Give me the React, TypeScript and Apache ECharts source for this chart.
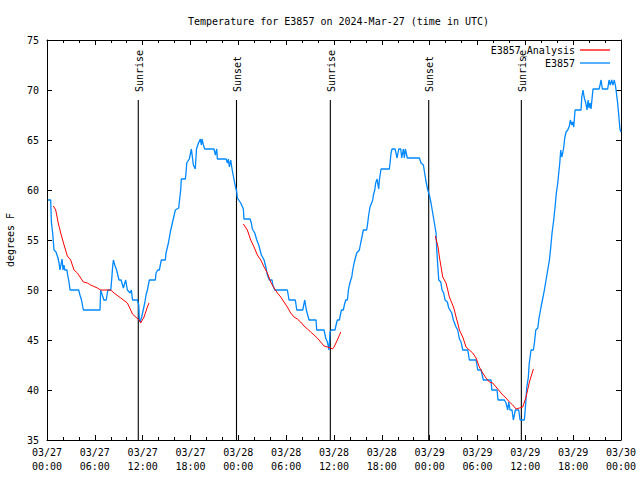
import React, { useEffect, useRef } from "react";
import * as echarts from "echarts";

// hours since 2024-03-27 00:00 UTC
const START_UTC = Date.UTC(2024, 2, 27, 0, 0);

const blueHours = [
  0.10, 0.46, 0.55, 0.71, 0.88, 1.13, 1.38, 1.51, 1.63, 1.89, 2.01, 2.13, 2.23, 2.51, 2.55, 2.76, 2.89, 3.98, 4.13, 4.33,
  4.56, 6.65, 6.73, 7.13, 7.43, 7.63, 8.0, 8.13, 8.23, 8.33, 8.5, 8.73, 9.03, 9.29, 9.58, 9.87, 10.08, 10.43, 10.58, 10.73,
  11.33, 11.51, 11.58, 11.67, 11.88, 12.26, 12.42, 12.59, 12.84, 13.59, 13.68, 13.89, 14.09, 14.34, 14.84, 14.93, 15.23, 15.47, 15.81, 16.1,
  16.52, 16.6, 16.77, 16.85, 17.35, 17.44, 17.53, 17.85, 18.11, 18.36, 18.6, 18.75, 19.0, 19.24, 19.36, 19.45, 19.62, 19.78, 20.95, 21.12,
  21.29, 21.37, 22.46, 22.63, 22.75, 22.88, 23.05, 23.17, 23.3, 23.59, 23.8, 23.88, 24.3, 24.63, 24.71, 25.47, 25.63, 25.76, 26.06, 26.31,
  26.56, 26.72, 26.89, 27.23, 27.48, 27.64, 27.89, 28.23, 28.32, 28.57, 30.15, 30.36, 31.15, 31.33, 32.08, 32.33, 32.53, 32.87, 33.75, 33.83,
  34.75, 34.96, 35.17, 35.38, 35.5, 35.67, 36.13, 36.26, 36.42, 36.67, 36.93, 37.17, 37.3, 37.47, 37.68, 37.81, 37.93, 38.1, 38.23, 38.35,
  38.52, 38.68, 38.85, 39.18, 39.35, 39.48, 39.68, 40.1, 40.23, 40.35, 40.52, 40.86, 40.94, 41.11, 41.23, 41.4, 41.52, 41.61, 41.69, 41.9,
  42.94, 43.03, 43.16, 43.28, 43.66, 43.91, 44.12, 44.37, 44.5, 44.7, 44.83, 44.95, 45.2, 46.71, 46.92, 47.21, 47.51, 47.76, 47.96, 48.17,
  48.38, 48.59, 48.8, 48.89, 49.01, 49.14, 49.39, 49.55, 49.76, 49.93, 50.22, 50.39, 50.55, 50.77, 50.97, 51.31, 51.52, 51.73, 51.94, 52.15,
  52.78, 52.98, 53.82, 54.03, 54.45, 54.73, 55.7, 55.79, 56.45, 56.58, 57.37, 57.58, 57.79, 57.92, 58.08, 58.33, 58.5, 58.75, 59.17, 59.34,
  59.88, 60.05, 60.18, 60.38, 60.47, 60.63, 60.72, 61.01, 61.14, 61.31, 61.56, 61.72, 61.97, 62.22, 62.39, 62.6, 62.81, 63.02, 63.19, 63.35,
  63.56, 63.73, 63.89, 64.07, 64.19, 64.32, 64.44, 64.57, 64.69, 64.82, 64.94, 65.11, 65.32, 65.52, 65.65, 65.82, 65.94, 66.07, 66.24, 66.99,
  67.08, 67.24, 67.37, 67.58, 67.74, 67.87, 67.99, 68.12, 68.24, 68.49, 69.25, 69.37, 69.5, 69.66, 70.33, 70.5, 70.66, 70.83, 70.99, 71.16,
  71.33, 71.58, 71.74, 71.87, 72.0,
];
const blueTemps = [
  59, 59, 56.8, 55.7, 54, 53.8, 53.2, 52.7, 52, 53.1, 52, 52.5, 52, 52, 51.7, 50.8, 50, 50, 49.5, 49,
  48, 48, 50, 49, 49, 50, 50, 51.2, 52.3, 53, 52.5, 52, 51, 51, 50.2, 51, 50, 49.7, 50, 49,
  49, 48.5, 47, 46.8, 47.3, 48.7, 49.5, 50, 51, 51, 51.7, 52, 52, 53, 53, 53.7, 54.7, 55.8, 57, 58,
  58.2, 58.8, 60, 61.1, 61.1, 61.7, 62.7, 63.1, 64.1, 62.5, 62.1, 64.1, 64.7, 65.1, 64.5, 65.1, 64.5, 64.1, 64.1, 63.5,
  64.1, 63.1, 63.1, 62.7, 63.1, 62.3, 63, 62.3, 61.7, 60.5, 59.8, 59.2, 58.7, 58.1, 57.1, 57.1, 56.7, 56.1, 55.7, 55,
  54.5, 54, 53.5, 53, 52.2, 51.5, 51, 51, 50.5, 50, 50, 49, 49, 48, 48, 49, 48, 47, 47, 46,
  46, 45.2, 44.8, 44, 45.8, 46, 46, 46.5, 47, 47, 48, 48, 48.5, 49, 49, 50, 50.5, 51, 51.3, 52,
  52.7, 53.2, 53.7, 54, 54.7, 55.2, 56, 56, 56.7, 57.5, 58.3, 59, 59.5, 60, 60.7, 61.1, 60.5, 60.1, 61, 62.1,
  62.1, 62.7, 63.7, 64.1, 64.1, 63.2, 64.1, 64.1, 63.2, 64.1, 63.2, 64.1, 63.2, 63.2, 62.7, 62.5, 61, 60, 59.5, 58.7,
  57.7, 56.7, 55.7, 54, 52.5, 51, 50.8, 50, 49.7, 49, 48.8, 48.2, 48, 47.7, 47, 46.3, 46, 45.1, 44.8, 44,
  44, 43, 43, 42, 42, 41, 41, 40, 40, 39, 39, 38.7, 38, 38.8, 38, 38, 37, 38, 38, 37,
  37, 38.7, 40.3, 41.3, 42.5, 43.5, 44, 44, 44.7, 46, 46.2, 47.2, 48.3, 49.3, 50, 51, 52, 53, 54.3, 55.7,
  57, 58.3, 59.7, 60.7, 61.7, 62.7, 64, 63.3, 63.7, 64.3, 65.2, 65.8, 66, 66.4, 67, 66.5, 66.8, 66.3, 68, 68,
  69.3, 70, 69.3, 68.7, 68, 69, 68.2, 68.7, 68.1, 70.1, 70.1, 70.5, 71, 70.1, 70.1, 71, 70.5, 71, 70.5, 71,
  70.3, 68.7, 67.3, 66.1, 65.8,
];

// analysis curve: three separate runs
const redHours1 = [0.8, 1.09, 1.22, 1.38, 1.72, 2.14, 2.55, 2.97, 3.39, 3.81, 4.23, 4.56, 5.06, 5.48, 6.32, 6.73, 7.99, 8.41, 9.25, 10.08, 10.5, 10.71, 11.55, 11.75, 12.17, 12.59, 12.8];
const redTemps1 = [58.4, 58, 57.5, 56.8, 55.7, 54.5, 53.4, 53, 52, 51.7, 51.2, 50.8, 50.7, 50.5, 50.2, 50, 50, 49.7, 49.2, 48.7, 48, 47.6, 47, 46.7, 47.3, 48.3, 48.7];
const redHours2 = [24.63, 25.13, 25.55, 25.97, 26.39, 26.81, 27.23, 27.64, 28.06, 28.48, 28.9, 29.32, 29.73, 30.15, 30.57, 30.99, 31.4, 31.82, 32.24, 32.66, 33.08, 33.5, 33.91, 34.33, 34.75, 35.17, 35.59, 35.8, 36.01, 36.42, 36.85];
const redTemps2 = [56.6, 56, 55, 54.3, 53.5, 53, 52.3, 51.7, 50.8, 50.2, 49.7, 49.3, 48.8, 48.3, 47.7, 47.3, 47.1, 46.8, 46.4, 46.1, 45.8, 45.5, 45.2, 44.8, 44.4, 44.3, 44.2, 44.1, 44.3, 45, 45.8];
const redHours3 = [48.71, 49.05, 49.22, 49.43, 49.64, 50.05, 50.27, 50.47, 50.89, 51.1, 51.31, 51.52, 51.73, 52.15, 52.56, 52.98, 53.4, 53.82, 54.23, 54.65, 55.07, 55.49, 55.91, 56.33, 56.75, 57.17, 57.58, 58.0, 58.42, 58.84, 59.26, 59.68, 60.09, 60.51, 61.01];
const redTemps3 = [55.4, 54.3, 53.3, 52.3, 51.3, 50.7, 50, 49.3, 48.5, 48, 47.3, 46.7, 46, 45.3, 44.3, 44, 43.7, 43.2, 42.3, 41.7, 41.2, 40.8, 40.7, 40.3, 39.9, 39.5, 39.2, 38.8, 38.5, 38.1, 38.2, 38.3, 39.3, 40.8, 42.1];

const eventHours = [11.45, 23.77, 35.54, 47.88, 59.5];
const eventLabels = ["Sunrise", "Sunset", "Sunrise", "Sunset", "Sunrise"];

const yTicks = [35, 40, 45, 50, 55, 60, 65, 70, 75];

const TITLE = "Temperature for E3857 on 2024-Mar-27 (time in UTC)";
const FONT = "DejaVu Sans Mono";

function pad(n: number) {
  return n < 10 ? "0" + n : String(n);
}
function fmtTime(h: number) {
  const d = new Date(START_UTC + h * 3600 * 1000);
  return `${pad(d.getUTCMonth() + 1)}/${pad(d.getUTCDate())}\n${pad(d.getUTCHours())}:${pad(d.getUTCMinutes())}`;
}

export default function App() {
  const ref = useRef<HTMLDivElement>(null);
  useEffect(() => {
    if (!ref.current) return;
    const chart = echarts.init(ref.current, null, { renderer: "svg" });

    const blueData = blueHours.map((h, i) => [h, blueTemps[i]]);
    const seg = (hs: number[], ts: number[]) => hs.map((h, i) => [h, ts[i]]);
    const redData: any[] = [
      ...seg(redHours1, redTemps1),
      [18, null],
      ...seg(redHours2, redTemps2),
      [42, null],
      ...seg(redHours3, redTemps3),
    ];
    const eventData = eventHours.map((h) => [h, 69]);

    const tickCommon = { inside: true, length: 5, lineStyle: { color: "#000", width: 1 } };
    const minorCommon = { show: true, splitNumber: 3, length: 3, lineStyle: { color: "#000", width: 1 } };
    const axisLineCommon = { show: true, onZero: false, lineStyle: { color: "#000", width: 1 } };

    const xBase = { type: "value", min: 0, max: 72, interval: 6, splitLine: { show: false } };
    const yBase = { type: "value", min: yTicks[0], max: yTicks[yTicks.length - 1], interval: 5, splitLine: { show: false } };

    chart.setOption({
      animation: false,
      backgroundColor: "#fff",
      textStyle: { fontFamily: FONT },
      title: {
        text: TITLE,
        left: 183,
        top: 11,
        textStyle: { fontFamily: FONT, fontSize: 10, fontWeight: "normal", color: "#000" },
      },
      legend: {
        data: [
          { name: "E3857_Analysis", icon: "rect" },
          { name: "E3857", icon: "rect" },
        ],
        orient: "vertical",
        right: 25,
        top: 39,
        align: "right",
        itemWidth: 30,
        itemHeight: 1.3,
        itemGap: 1,
        textStyle: { fontFamily: FONT, fontSize: 10, color: "#000", lineHeight: 12 },
      },
      grid: { left: 47, right: 19, top: 40, bottom: 40, containLabel: false, outerBoundsMode: "none" },
      xAxis: [
        {
          ...xBase,
          position: "bottom",
          axisLine: axisLineCommon,
          axisTick: tickCommon,
          minorTick: minorCommon,
          axisLabel: {
            formatter: fmtTime,
            fontFamily: FONT,
            fontSize: 10,
            color: "#000",
            lineHeight: 14,
            margin: 5,
          },
        },
        {
          ...xBase,
          position: "top",
          axisLine: axisLineCommon,
          axisTick: tickCommon,
          minorTick: minorCommon,
          axisLabel: { show: false },
        },
      ],
      yAxis: [
        {
          ...yBase,
          position: "left",
          name: "degrees F",
          nameLocation: "middle",
          nameGap: 32,
          nameTextStyle: { fontFamily: FONT, fontSize: 10, color: "#000" },
          axisLine: axisLineCommon,
          axisTick: tickCommon,
          axisLabel: { fontFamily: FONT, fontSize: 10, color: "#000", margin: 8 },
        },
        {
          ...yBase,
          position: "right",
          axisLine: axisLineCommon,
          axisTick: tickCommon,
          axisLabel: { show: false },
        },
      ],
      series: [
        {
          type: "custom",
          name: "events",
          silent: true,
          xAxisIndex: 0,
          yAxisIndex: 0,
          data: eventData,
          renderItem: (params: any, api: any) => {
            const h = api.value(0);
            const top = api.value(1);
            const p0 = api.coord([h, yTicks[0]]);
            const p1 = api.coord([h, top]);
            return {
              type: "group",
              children: [
                {
                  type: "line",
                  shape: { x1: p0[0], y1: p0[1], x2: p1[0], y2: p1[1] },
                  style: { stroke: "#000", lineWidth: 1.1 },
                },
                {
                  type: "text",
                  x: p1[0] + 1,
                  y: p1[1] - 8,
                  rotation: Math.PI / 2,
                  style: {
                    text: eventLabels[params.dataIndex],
                    align: "left",
                    verticalAlign: "middle",
                    fontFamily: FONT,
                    fontSize: 10,
                    fill: "#000",
                  },
                },
              ],
            };
          },
        },
        {
          type: "line",
          name: "E3857",
          data: blueData,
          symbol: "none",
          showSymbol: false,
          lineStyle: { color: "#0088ff", width: 1.3 },
          itemStyle: { color: "#0088ff" },
          z: 3,
        },
        {
          type: "line",
          name: "E3857_Analysis",
          data: redData,
          connectNulls: false,
          symbol: "none",
          showSymbol: false,
          lineStyle: { color: "#ff0000", width: 1 },
          itemStyle: { color: "#ff0000" },
          z: 4,
        },
      ],
    });
    return () => chart.dispose();
  }, []);
  return (
    <div
      ref={ref}
      style={{ position: "fixed", left: 0, top: 0, width: 640, height: 480 }}
    />
  );
}
